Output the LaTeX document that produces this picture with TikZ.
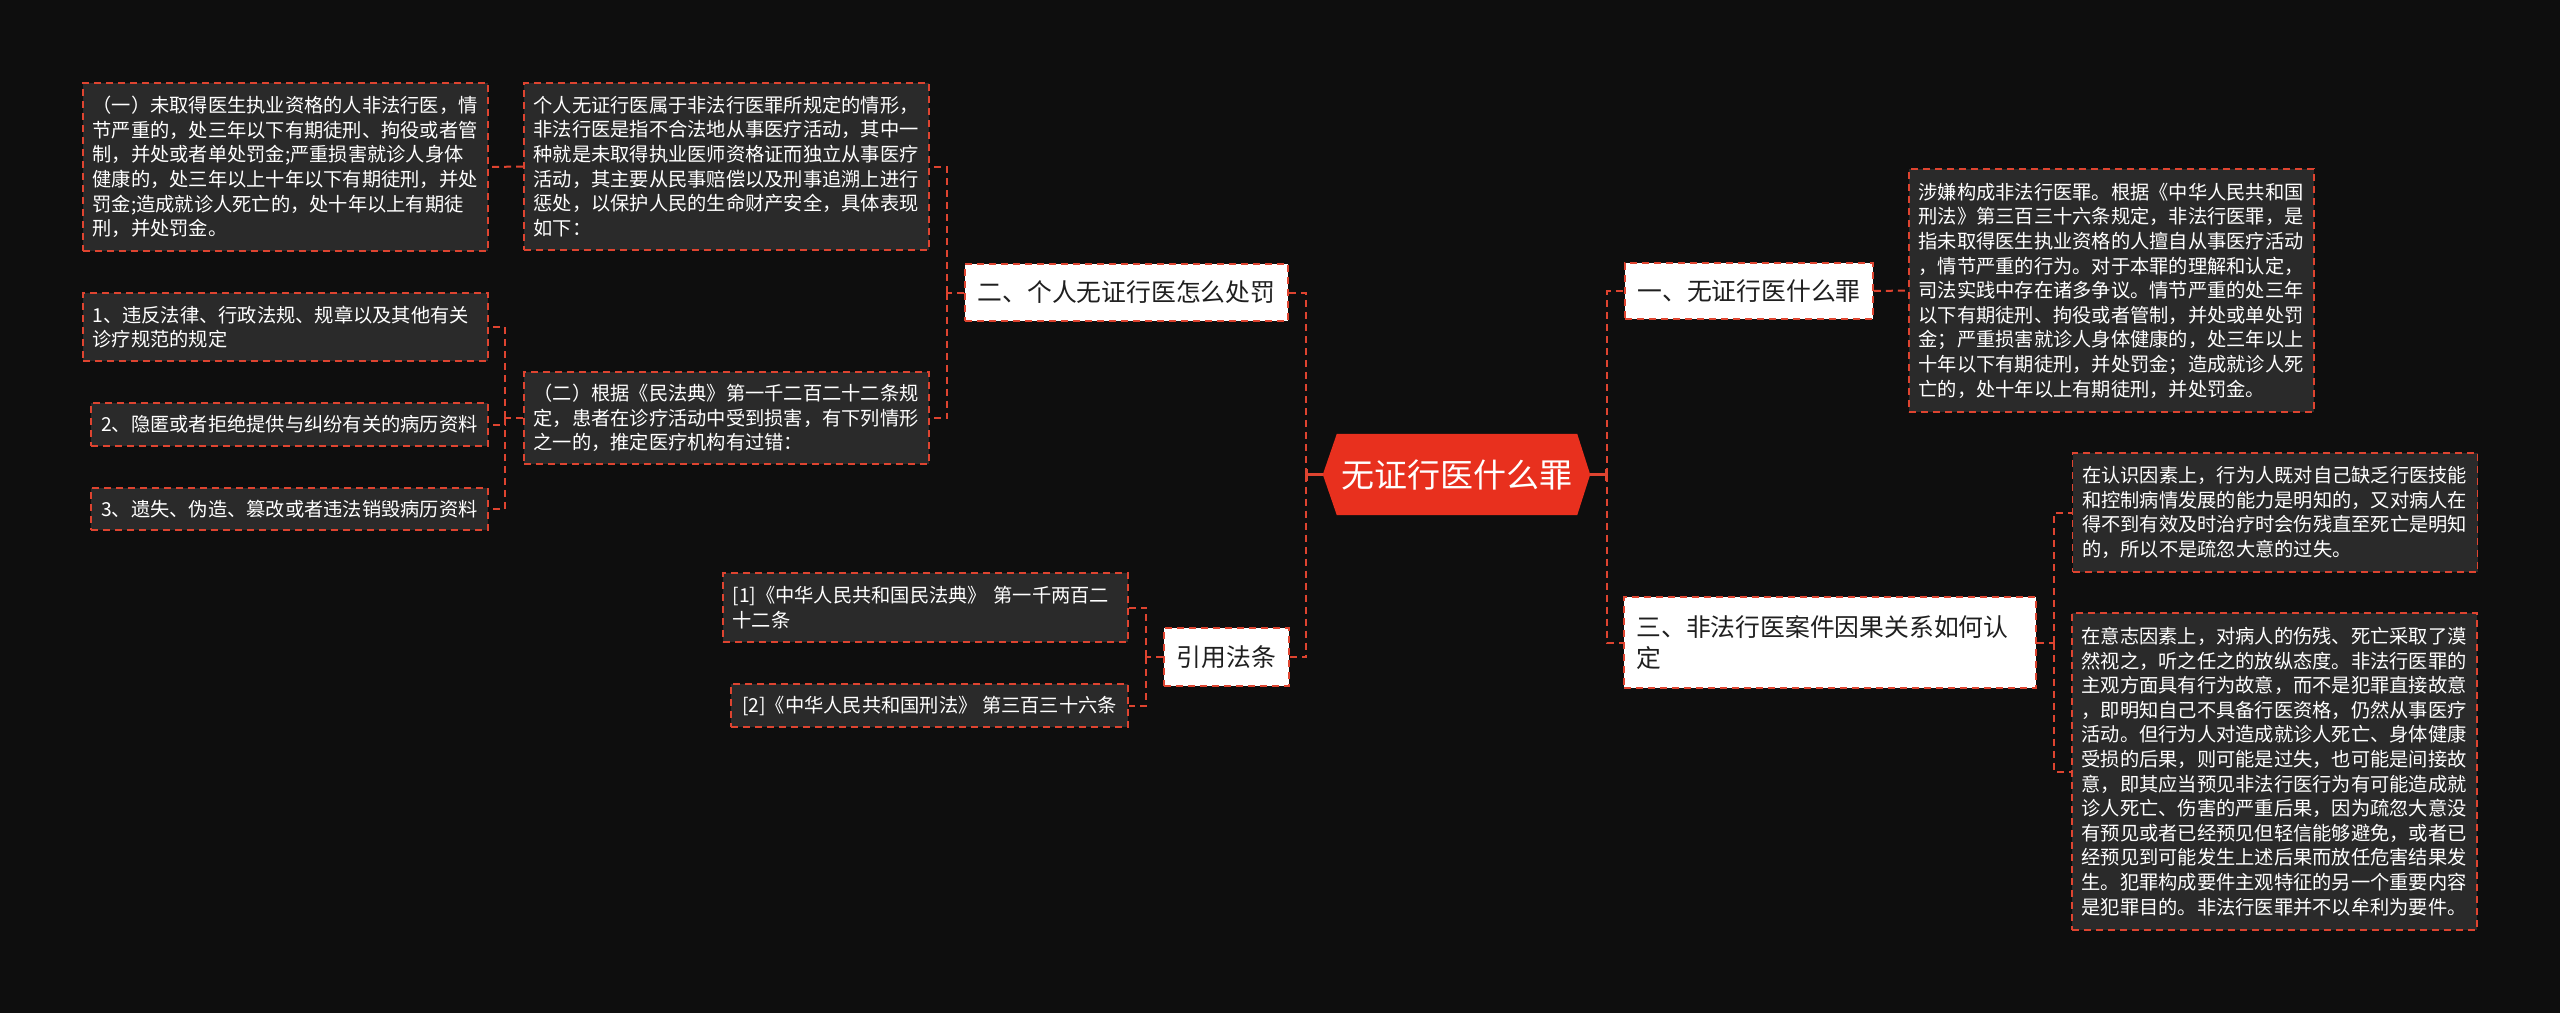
\documentclass[tikz,border=0pt]{standalone}
\usepackage{fontspec}
\setmainfont{Noto Sans CJK SC}
\usetikzlibrary{arrows.meta}
\definecolor{bg}{RGB}{14,14,14}
\definecolor{lred}{RGB}{222,68,48}
\definecolor{hexred}{RGB}{232,48,30}
\definecolor{leaffill}{RGB}{42,42,42}
\pgfdeclarelayer{background}
\pgfsetlayers{background,main}
\begin{document}
\begin{tikzpicture}[x=1pt,y=-1pt,
  box/.style={draw=lred, line width=1.8pt, dash pattern=on 7pt off 5pt, inner sep=0pt},
  leaf/.style={box, fill=leaffill, text=white, font=\fontsize{19.25pt}{24.6pt}\selectfont, align=left},
  multi/.style={leaf, text width=386pt, inner xsep=9.5pt},
  single/.style={leaf, minimum width=397pt},
  topic/.style={box, fill=white, text=black!88, font=\fontsize{24.8pt}{31.7pt}\selectfont},
  conn/.style={draw=lred, line width=2pt, dash pattern=on 7pt off 5pt},
  stub/.style={draw=lred, line width=2.2pt, -{Bar[width=12pt,line width=2.2pt]}}
]
\useasboundingbox (0,0) rectangle (2560,1013);

% root
\node[minimum width=267pt, minimum height=81pt, inner sep=0pt, text=white,
      font=\fontsize{33pt}{36pt}\selectfont] (root) at (1456.5,474.5) {无证行医什么罪};

% left branch
\node[topic, minimum width=323pt, minimum height=57pt] (n2) at (1126.5,292.5) {二、个人无证行医怎么处罚};
\node[topic, minimum width=125pt, minimum height=58pt] (ref) at (1226.5,657) {引用法条};

\node[multi, minimum height=167pt] (b0) at (726.5,166.5) {个人无证行医属于非法行医罪所规定的情形，\\非法行医是指不合法地从事医疗活动，其中一\\种就是未取得执业医师资格证而独立从事医疗\\活动，其主要从民事赔偿以及刑事追溯上进行\\惩处，以保护人民的生命财产安全，具体表现\\如下：};
\node[multi, minimum height=168pt] (a0) at (285.5,167) {（一）未取得医生执业资格的人非法行医，情\\节严重的，处三年以下有期徒刑、拘役或者管\\制，并处或者单处罚金;严重损害就诊人身体\\健康的，处三年以上十年以下有期徒刑，并处\\罚金;造成就诊人死亡的，处十年以上有期徒\\刑，并处罚金。};
\node[multi, minimum height=92pt] (b1) at (726.5,418) {（二）根据《民法典》第一千二百二十二条规\\定，患者在诊疗活动中受到损害，有下列情形\\之一的，推定医疗机构有过错：};
\node[multi, minimum height=68pt] (c1) at (285.5,327) {1、违反法律、行政法规、规章以及其他有关\\诊疗规范的规定};
\node[single, minimum height=43pt] (c2) at (289.5,424.5) {2、隐匿或者拒绝提供与纠纷有关的病历资料};
\node[single, minimum height=42pt] (c3) at (289.5,509) {3、遗失、伪造、篡改或者违法销毁病历资料};

\node[multi, minimum height=69pt] (r1) at (925.5,607.5) {[1]《中华人民共和国民法典》 第一千两百二\\十二条};
\node[single, minimum height=43pt] (r2) at (929.5,705.5) {[2]《中华人民共和国刑法》 第三百三十六条};

% right branch
\node[topic, minimum width=248pt, minimum height=56pt] (n1) at (1749,291) {一、无证行医什么罪};
\node[topic, text width=387pt, inner xsep=12.5pt, minimum height=91pt, align=left] (n3) at (1830,642.5) {三、非法行医案件因果关系如何认\\定};

\node[multi, minimum height=243pt] (d1) at (2111.5,290.5) {涉嫌构成非法行医罪。根据《中华人民共和国\\刑法》第三百三十六条规定，非法行医罪，是\\指未取得医生执业资格的人擅自从事医疗活动\\，情节严重的行为。对于本罪的理解和认定，\\司法实践中存在诸多争议。情节严重的处三年\\以下有期徒刑、拘役或者管制，并处或单处罚\\金；严重损害就诊人身体健康的，处三年以上\\十年以下有期徒刑，并处罚金；造成就诊人死\\亡的，处十年以上有期徒刑，并处罚金。};
\node[multi, minimum height=119pt] (e1) at (2275,512.5) {在认识因素上，行为人既对自己缺乏行医技能\\和控制病情发展的能力是明知的，又对病人在\\得不到有效及时治疗时会伤残直至死亡是明知\\的，所以不是疏忽大意的过失。};
\node[multi, minimum height=317pt] (e2) at (2274.5,771.5) {在意志因素上，对病人的伤残、死亡采取了漠\\然视之，听之任之的放纵态度。非法行医罪的\\主观方面具有行为故意，而不是犯罪直接故意\\，即明知自己不具备行医资格，仍然从事医疗\\活动。但行为人对造成就诊人死亡、身体健康\\受损的后果，则可能是过失，也可能是间接故\\意，即其应当预见非法行医行为有可能造成就\\诊人死亡、伤害的严重后果，因为疏忽大意没\\有预见或者已经预见但轻信能够避免，或者已\\经预见到可能发生上述后果而放任危害结果发\\生。犯罪构成要件主观特征的另一个重要内容\\是犯罪目的。非法行医罪并不以牟利为要件。};

% bus coordinates
\coordinate (lb) at (1306,474.5);
\coordinate (rb) at (1607,474.5);
\coordinate (b2) at (947,292.5);
\coordinate (bb1) at (505,418);
\coordinate (rr) at (1146,657);
\coordinate (e0) at (2054,642.5);

% connectors
\draw[stub] (root.west) -- (lb);
\draw[stub] (root.east) -- (rb);
\draw[conn] (lb) |- (n2.east);
\draw[conn] (lb) |- (ref.east);
\draw[conn] (rb) |- (n1.west);
\draw[conn] (rb) |- (n3.west);

\draw[conn] (n2.west) -- (b2);
\draw[conn] (b2) |- (b0.east);
\draw[conn] (b2) |- (b1.east);
\draw[conn] (b0.west) -- (a0.east);
\draw[conn] (b1.west) -- (bb1);
\draw[conn] (bb1) |- (c1.east);
\draw[conn] (bb1) |- (c2.east);
\draw[conn] (bb1) |- (c3.east);

\draw[conn] (ref.west) -- (rr);
\draw[conn] (rr) |- (r1.east);
\draw[conn] (rr) |- (r2.east);

\draw[conn] (n1.east) -- (d1.west);
\draw[conn] (n3.east) -- (e0);
\draw[conn] (e0) |- (e1.west);
\draw[conn] (e0) |- (e2.west);

\begin{pgfonlayer}{background}
\fill[bg] (0,0) rectangle (2560,1013);
\fill[hexred] (root.west) -- ([xshift=14pt]root.north west) -- ([xshift=-13pt]root.north east)
  -- (root.east) -- ([xshift=-13pt]root.south east) -- ([xshift=14pt]root.south west) -- cycle;
\end{pgfonlayer}
\end{tikzpicture}
\end{document}
